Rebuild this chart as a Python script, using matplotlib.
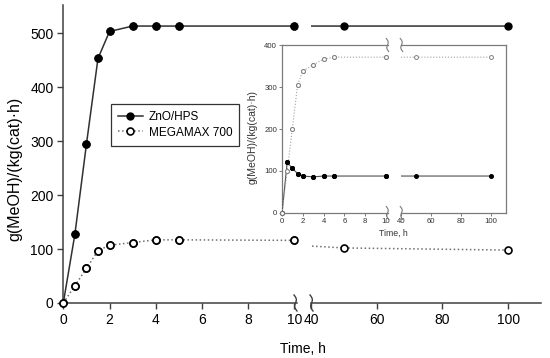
import numpy as np
import matplotlib
matplotlib.use("Agg")
import matplotlib.pyplot as plt
from matplotlib.lines import Line2D

plt.rcParams['font.family'] = ['Liberation Sans', 'DejaVu Sans']

# ---- data (main chart) ----
t_main = [0, 0.5, 1, 1.5, 2, 3, 4, 5, 10, 50, 100]
zno_main = [0, 127, 294, 453, 503, 513, 513, 513, 513, 513, 513]
mega_main = [0, 32, 64, 97, 107, 112, 117, 117, 116, 102, 98]

# ---- data (inset) ----
t_ins = [0, 0.5, 1, 1.5, 2, 3, 4, 5, 10, 50, 100]
zno_ins = [0, 121, 106, 94, 88, 86, 88, 88, 88, 88, 88]
mega_ins = [0, 100, 201, 305, 338, 353, 366, 371, 371, 371, 371]

xt_left = [0, 2, 4, 6, 8, 10]
xt_right = [40, 60, 80, 100]
yt_main = [0, 100, 200, 300, 400, 500]
yt_ins = [0, 100, 200, 300, 400]

W, H = 550, 358
fig = plt.figure(figsize=(W / 100, H / 100), dpi=100)


def fax(x0, x1, ytop, ybot):
    return [x0 / W, 1 - ybot / H, (x1 - x0) / W, (ybot - ytop) / H]


spc = '#404040'
MS = 5.0

# ---- main axes ----
a1 = fig.add_axes(fax(63.3, 296.8, 5, 303))
a2 = fig.add_axes(fax(311, 541, 5, 303))
a1.set_xlim(0, 10.1)
a2.set_xlim(40, 110)
for a in (a1, a2):
    a.set_ylim(0, 552)
    a.patch.set_alpha(0)
    a.spines['top'].set_visible(False)
    a.spines['right'].set_visible(False)
    for s in a.spines.values():
        s.set_color(spc)
        s.set_linewidth(1.1)
    a.tick_params(direction='out', length=4, width=1, color=spc,
                  labelsize=10, pad=3)
a2.spines['left'].set_visible(False)
a2.tick_params(axis='y', left=False, labelleft=False)
a1.set_xticks(xt_left)
a2.set_xticks(xt_right)
a1.set_yticks(yt_main)

for a in (a1, a2):
    a.plot(t_main, zno_main, '-', color='#303030', lw=1.1, marker='o',
           ms=MS, mfc='black', mec='black', clip_on=True, zorder=3)
    a.plot(t_main, mega_main, ':', color='#707070', lw=1.1, marker='o',
           ms=MS, mfc='white', mec='black', mew=1.2, clip_on=True, zorder=3)
# re-draw markers at the segment edges without clipping
a1.plot(t_main[:9], zno_main[:9], 'o', ms=MS, mfc='black', mec='black', clip_on=False, zorder=4)
a1.plot(t_main[:9], mega_main[:9], 'o', ms=MS, mfc='white', mec='black', mew=1.2,
        clip_on=False, zorder=4)

a1.set_ylabel('g(MeOH)/(kg(cat)·h)', fontsize=11.5)
a1.yaxis.set_label_coords(22 / W, 1 - 169 / H, transform=fig.transFigure)
fig.text(303 / W, 1 - 349 / H, 'Time, h', fontsize=10, ha='center', va='center')

leg_handles = [
    Line2D([], [], color='#303030', lw=1.1, marker='o', ms=MS, mfc='black', mec='black'),
    Line2D([], [], color='#707070', lw=1.1, ls=':', marker='o', ms=MS, mfc='white',
           mec='black', mew=1.2),
]
leg = fig.legend(leg_handles, ['ZnO/HPS', 'MEGAMAX 700'], loc='upper left',
                 bbox_to_anchor=(111 / W, 1 - 104 / H), bbox_transform=fig.transFigure,
                 borderaxespad=0, fontsize=8.5, frameon=True, fancybox=False,
                 edgecolor='black', handlelength=2.1, borderpad=0.6,
                 labelspacing=0.3, handletextpad=0.5)
leg.get_frame().set_linewidth(0.9)

# ---- inset axes ----
ic = '#7a7a7a'
i1 = fig.add_axes(fax(282, 388, 45, 213))
i2 = fig.add_axes(fax(401, 506, 45, 213))
i1.set_xlim(0, 10.2)
i2.set_xlim(40, 110)
for a in (i1, i2):
    a.set_ylim(0, 400)
    for s in a.spines.values():
        s.set_color(ic)
        s.set_linewidth(0.9)
    a.tick_params(direction='out', length=2, width=0.7, color=ic,
                  labelsize=5.6, pad=1.5, labelcolor='#333333')
i1.spines['right'].set_visible(False)
i2.spines['left'].set_visible(False)
i2.tick_params(axis='y', left=False, labelleft=False)
i1.set_xticks(xt_left)
i2.set_xticks(xt_right)
i1.set_yticks(yt_ins)

for a in (i1, i2):
    a.plot(t_ins, zno_ins, '-', color='#505050', lw=0.8, marker='o', ms=2.6,
           mfc='black', mec='black', zorder=3)
    a.plot(t_ins, mega_ins, ':', color='#a0a0a0', lw=0.8, marker='o', ms=2.8,
           mfc='white', mec='#808080', mew=0.7, zorder=3)
i1.plot(t_ins[:9], zno_ins[:9], 'o', ms=2.6, mfc='black', mec='black', clip_on=False, zorder=4)
i1.plot(t_ins[:9], mega_ins[:9], 'o', ms=2.8, mfc='white', mec='#808080', mew=0.7,
        clip_on=False, zorder=4)

i1.set_ylabel('g(MeOH)/(kg(cat)·h)', fontsize=7.5, color='#333333')
i1.yaxis.set_label_coords(258 / W, 1 - 137 / H, transform=fig.transFigure)
fig.text(393.5 / W, 1 - 233 / H, 'Time, h', fontsize=6.3, ha='center', va='center',
         color='#333333')


# ---- break marks ----
def brk(xc, yc, hh, ww, color, lw):
    tt = np.linspace(-1, 1, 40)
    xs = xc + ww * np.sin(np.pi * tt) * 0.5 - ww * 0.5 * tt
    ys = yc - hh * tt
    fig.add_artist(Line2D(xs / W, 1 - ys / H, transform=fig.transFigure,
                          color=color, lw=lw))


brk(295.5, 303, 8, 3, spc, 1.0)
brk(311.5, 303, 8, 3, spc, 1.0)
for yy in (45, 213):
    brk(387.5, yy, 6.5, 2.5, ic, 0.8)
    brk(401.5, yy, 6.5, 2.5, ic, 0.8)

fig.savefig('out.png', dpi=100)
